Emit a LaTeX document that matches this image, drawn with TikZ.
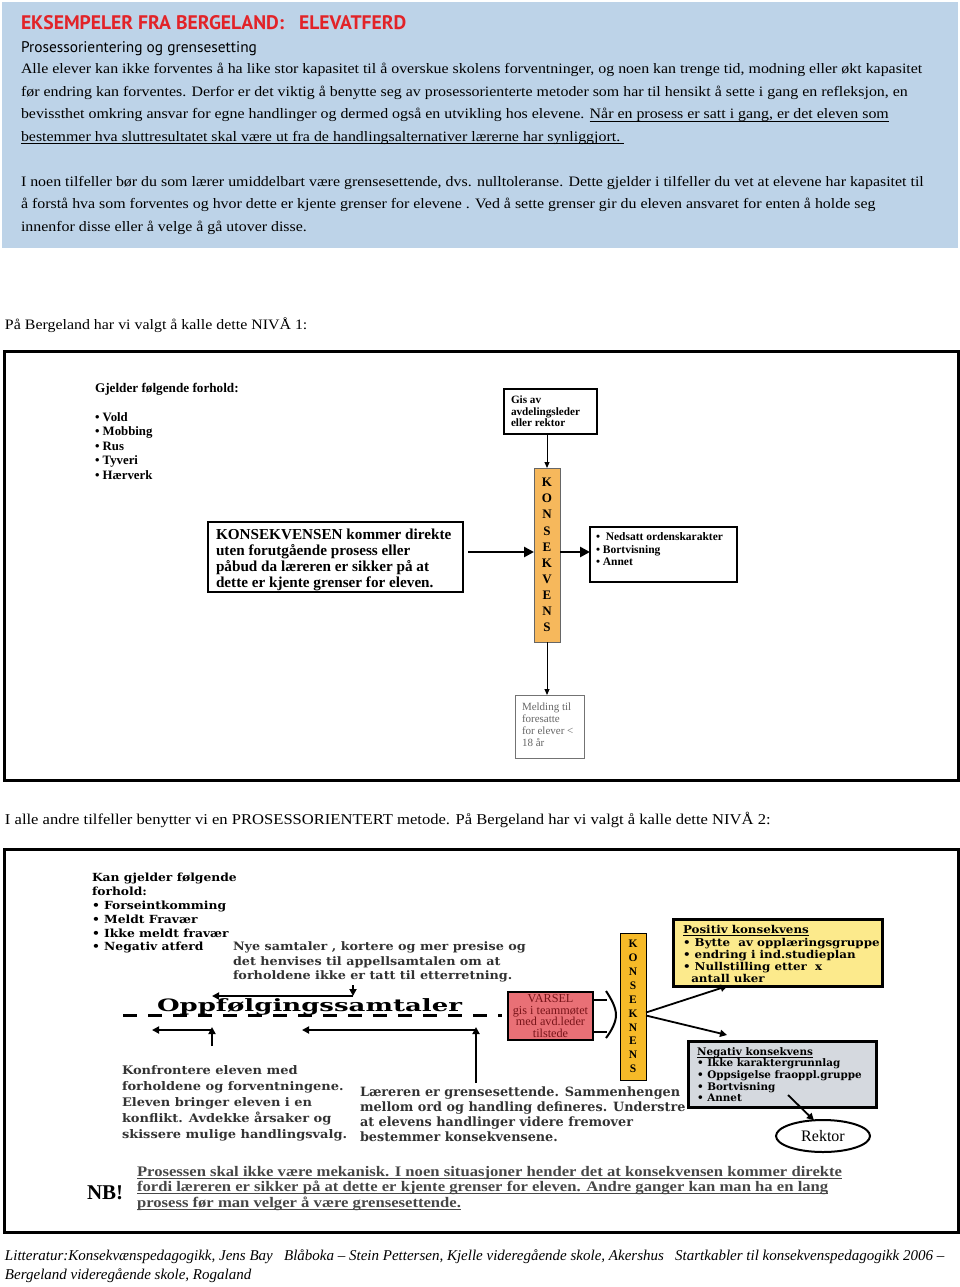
\documentclass[tikz,border=0pt]{standalone}
\usepackage{fontspec}
\usepackage{graphicx}
\setmainfont{Liberation Serif}
\newfontfamily\ptsans{PT Sans}
\newfontfamily\dvs{DejaVu Serif}
\newfontfamily\dvsw[FakeStretch=1.1]{DejaVu Serif}
\newfontfamily\bodyf[FakeStretch=1.105]{Liberation Serif}
\newfontfamily\nbf[FakeStretch=1.14]{Liberation Serif}
\usetikzlibrary{arrows.meta,shapes.geometric}
\newsavebox\ulbox
\newcommand\ulx[1]{\sbox\ulbox{#1}\rlap{\rule[-2.5pt]{\wd\ulbox}{0.9pt}}\usebox\ulbox}
\definecolor{hdrbg}{RGB}{189,211,232}
\definecolor{titlered}{RGB}{226,35,40}
\definecolor{barAc}{RGB}{246,184,92}
\definecolor{barBc}{RGB}{246,186,40}
\definecolor{posfill}{RGB}{252,234,140}
\definecolor{negfill}{RGB}{213,217,223}
\definecolor{varfill}{RGB}{233,112,118}
\definecolor{vartext}{RGB}{120,20,25}
\begin{document}
\begin{tikzpicture}[x=1pt,y=-1pt,
  every node/.style={inner sep=0pt,outer sep=0pt},
  txt/.style={anchor=base west},
  para/.style={anchor=north west,align=left},
  box/.style={draw,line width=2.5pt,anchor=north west},
  thickarr/.style={line width=2.5pt,-{Triangle[length=10pt,width=10pt]}},
  thinarr/.style={line width=1pt,-{Triangle[length=6pt,width=5pt]}},
  midarr/.style={line width=1.8pt,-{Triangle[length=7pt,width=7pt]}},
  body/.style={txt,font=\bodyf\fontsize{14.4}{14.4}\selectfont}]
\useasboundingbox (0,0) rectangle (960,1287);
\fill[white] (0,0) rectangle (960,1287);
% header
\fill[hdrbg] (2,2) rectangle (958,248);
\node[txt,text=titlered,font=\ptsans\bfseries\fontsize{19.6}{19.6}\selectfont] (title) at (21,30) {EKSEMPELER FRA BERGELAND:\hspace{15pt}ELEVATFERD};
\node[txt,font=\ptsans\fontsize{15.4}{15.4}\selectfont] (sub) at (21,53) {Prosessorientering og grensesetting};
\node[body] (h1) at (21,74) {Alle elever kan ikke forventes å ha like stor kapasitet til å overskue skolens forventninger, og noen kan trenge tid, modning eller økt kapasitet};
\node[body] (h2) at (21,96.5) {før endring kan forventes. Derfor er det viktig å benytte seg av prosessorienterte metoder som har til hensikt å sette i gang en refleksjon, en};
\node[body] (h3) at (21,119) {bevissthet omkring ansvar for egne handlinger og dermed også en utvikling hos elevene. \ulx{Når en prosess er satt i gang, er det eleven som}};
\node[body] (h4) at (21,141.5) {\ulx{bestemmer hva sluttresultatet skal være ut fra de handlingsalternativer lærerne har synliggjort.\ }};
\node[body] (h5) at (21,186) {I noen tilfeller bør du som lærer umiddelbart være grensesettende, dvs. nulltoleranse. Dette gjelder i tilfeller du vet at elevene har kapasitet til};
\node[body] (h6) at (21,208.5) {å forstå hva som forventes og hvor dette er kjente grenser for elevene . Ved å sette grenser gir du eleven ansvaret for enten å holde seg};
\node[body] (h7) at (21,231) {innenfor disse eller å velge å gå utover disse.};
\node[body] (niv1) at (5,329) {På Bergeland har vi valgt å kalle dette NIVÅ 1:};
\node[body,font=\bodyf\fontsize{15}{15}\selectfont] (niv2) at (5,824) {I alle andre tilfeller benytter vi en PROSESSORIENTERT metode. På Bergeland har vi valgt å kalle dette NIVÅ 2:};
% frames
\draw[line width=3pt] (4,351) rectangle (958,780);
\draw[line width=3pt] (4,849) rectangle (958,1232);
% ---------- diagram 1
\node[txt,font=\bfseries\fontsize{13.2}{13.2}\selectfont] (gjh) at (95,392) {Gjelder følgende forhold:};
\node[para,font=\bfseries\fontsize{12.8}{14.5}\selectfont] (gjl) at (95,412.5) {• Vold\\• Mobbing\\• Rus\\• Tyveri\\• Hærverk};
\node[box,minimum width=255pt,minimum height=70pt] (konsA) at (208,522) {};
\node[para,font=\bfseries\fontsize{15.2}{16.3}\selectfont] (konsAt) at (216,528.5) {KONSEKVENSEN kommer direkte\\uten forutgående prosess eller\\påbud da læreren er sikker på at\\dette er kjente grenser for eleven.};
\node[draw=black!60,line width=0.8pt,fill=barAc,minimum width=26pt,minimum height=174pt,anchor=north west,align=center,font=\bfseries\fontsize{13}{16.1}\selectfont] (barA) at (534,468) {K\\O\\N\\S\\E\\K\\V\\E\\N\\S};
\node[box,minimum width=93pt,minimum height=45pt] (gis) at (504,389) {};
\node[para,font=\bfseries\fontsize{11.2}{11.5}\selectfont] (gist) at (511,396) {Gis av\\avdelingsleder\\eller rektor};
\node[box,minimum width=147pt,minimum height=55pt] (listA) at (590,527) {};
\node[para,font=\bfseries\fontsize{11.5}{12.5}\selectfont] (listAt) at (596,533) {•\ \ Nedsatt ordenskarakter\\• Bortvisning\\• Annet};
\node[draw=black!55,line width=1pt,minimum width=69pt,minimum height=63pt,anchor=north west] (meld) at (515,695) {};
\node[para,text=black!60,font=\fontsize{11}{12}\selectfont] (meldt) at (522,703) {Melding til\\foresatte\\for elever <\\18 år};
\coordinate (aL) at ([yshift=5pt]konsA.east);
\draw[thickarr,shorten <=5pt] (aL) -- (aL -| barA.west);
\coordinate (aR) at ([yshift=3pt]barA.east);
\draw[thickarr] (aR) -- (aR -| listA.west);
\draw[thinarr] (gis.south -| barA.north) -- (barA.north);
\draw[thinarr] (barA.south) -- (barA.south |- meld.north);
% ---------- diagram 2
\node[para,font=\dvsw\bfseries\fontsize{11.2}{13.8}\selectfont] (kan) at (92,873.4) {Kan gjelder følgende\\forhold:\\• Forseintkomming\\• Meldt Fravær\\• Ikke meldt fravær\\• Negativ atferd};
\node[para,text=black!80,font=\dvsw\bfseries\fontsize{11.6}{14.5}\selectfont] (nye) at (233,942) {Nye samtaler , kortere og mer presise og\\det henvises til appellsamtalen om at\\forholdene ikke er tatt til etterretning.};
\node[draw,line width=2pt,fill=varfill,minimum width=85pt,minimum height=48pt,anchor=north west,align=center,text=vartext,font=\fontsize{12.2}{11.4}\selectfont] (varsel) at (508,992) {VARSEL\\gis i teammøtet\\med avd.leder\\tilstede};
\coordinate (dashL) at (123,1015);
\draw[line width=3pt,dash pattern=on 14pt off 11pt,shorten >=6pt] (dashL) -- (dashL -| varsel.west);
\node[txt,font=\dvs\bfseries\fontsize{17}{17}\selectfont] (opp) at (157,1011) {\resizebox{305pt}{\height}{Oppfølgingssamtaler}};
\coordinate (nyeA) at (353,985);
\coordinate (hzL) at (212,996);
\draw[midarr] (nyeA) -- (nyeA |- hzL);
\draw[midarr] (nyeA |- hzL) -- (hzL);
\coordinate (kA) at (212,1046);
\coordinate (kL) at (152,1030);
\draw[midarr] (kA) -- ([yshift=3pt]kA |- kL);
\draw[midarr] (kA |- kL) -- (kL);
\coordinate (lA) at (476,1083);
\coordinate (lL) at (302,1030);
\draw[midarr] (lA) -- ([yshift=3pt]lA |- lL);
\draw[midarr] (lA |- lL) -- (lL);
% hollow arrow
\draw[line width=2pt] ([yshift=-8pt]varsel.north east) -- ++(14,0);
\draw[line width=2pt] ([yshift=8pt]varsel.south east) -- ++(14,0);
\draw[line width=2pt] (606,991) .. controls (612,1000) and (616,1008) .. (616,1015) .. controls (616,1022) and (612,1030) .. (606,1038);
\node[draw,line width=1pt,fill=barBc,minimum width=26pt,minimum height=147pt,anchor=north west,align=center,font=\bfseries\fontsize{11.5}{13.9}\selectfont] (barB) at (620,933) {K\\O\\N\\S\\E\\K\\N\\E\\N\\S};
\node[draw,line width=3pt,fill=posfill,minimum width=209pt,minimum height=67pt,anchor=north west] (pos) at (673,919) {};
\node[para,font=\dvsw\bfseries\fontsize{10.8}{12.3}\selectfont] (post) at (683,925.5) {\ulx{Positiv konsekvens}\\• Bytte\ \ av opplæringsgruppe\\• endring i ind.studieplan\\• Nullstilling etter\ \ x\\\ \ antall uker};
\node[para,text=black!80,font=\dvs\bfseries\fontsize{12.8}{15.3}\selectfont] (laer) at (360,1086.3) {Læreren er grensesettende. Sammenhengen\\mellom ord og handling defineres. Understre\\at elevens handlinger videre fremover\\bestemmer konsekvensene.};
\node[draw,line width=3pt,fill=negfill,minimum width=188pt,minimum height=66pt,anchor=north west] (neg) at (688,1041) {};
\node[para,font=\dvs\bfseries\fontsize{10.4}{11.6}\selectfont] (negt) at (697,1047.3) {\ulx{Negativ konsekvens}\\• Ikke karaktergrunnlag\\• Oppsigelse fraoppl.gruppe\\• Bortvisning\\• Annet};
\node[ellipse,draw,line width=2pt,minimum width=94pt,minimum height=32pt,font=\fontsize{16}{16}\selectfont] (rektor) at (823,1136) {Rektor};
\draw[midarr] ([yshift=-6pt]barB.east) -- ([xshift=-50pt]pos.south);
\draw[midarr] ([yshift=-9pt]barB.east) -- ([xshift=-55pt,yshift=6pt]neg.north);
\draw[midarr] ([xshift=6pt,yshift=12pt]neg.south) -- (rektor.120);
\node[para,text=black!80,font=\dvsw\bfseries\fontsize{11.8}{15.8}\selectfont] (konf) at (122,1066) {Konfrontere eleven med\\forholdene og forventningene.\\Eleven bringer eleven i en\\konflikt. Avdekke årsaker og\\skissere mulige handlingsvalg.};
\node[txt,font=\bfseries\fontsize{21}{21}\selectfont] (nb) at (87,1199) {NB!};
\node[para,text=black!72,font=\nbf\bfseries\fontsize{14.6}{15.5}\selectfont] (nbt) at (137,1166) {\ulx{Prosessen skal ikke være mekanisk. I noen situasjoner hender det at konsekvensen kommer direkte}\\\ulx{fordi læreren er sikker på at dette er kjente grenser for eleven. Andre ganger kan man ha en lang}\\\ulx{prosess før man velger å være grensesettende.}};
% footer
\node[para,font=\itshape\fontsize{15}{19}\selectfont] (foot) at (5,1250) {Litteratur:Konsekvænspedagogikk, Jens Bay\ \ \ Blåboka – Stein Pettersen, Kjelle videregående skole, Akershus\ \ \ Startkabler til konsekvenspedagogikk 2006 –\\Bergeland videregående skole, Rogaland};
\end{tikzpicture}
\end{document}
